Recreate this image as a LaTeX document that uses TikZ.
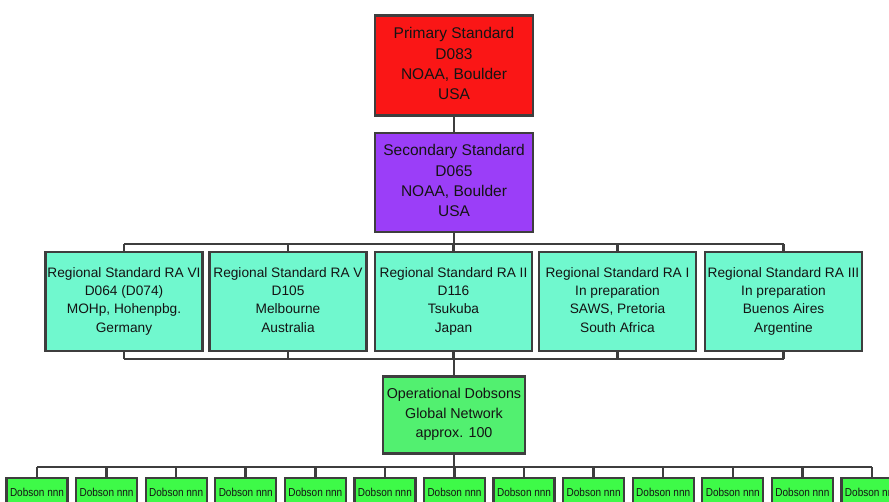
\documentclass[tikz,border=0pt]{standalone}
\usepackage{fontspec}
\setmainfont{Liberation Sans}
\definecolor{cred}{RGB}{250,22,22}
\definecolor{cpurple}{RGB}{155,62,248}
\definecolor{cturq}{RGB}{112,248,206}
\definecolor{copgreen}{RGB}{82,240,112}
\definecolor{cdob}{RGB}{62,250,72}
\definecolor{cline}{RGB}{62,62,62}
\definecolor{ctext}{RGB}{20,20,20}
\newcommand\firststrut[1]{\rule{0pt}{\dimexpr0.966em+#1\relax}}
\newcommand\laststrut{\rule[-0.25em]{0pt}{0.25em}}
\tikzset{
  box/.style={draw=cline, line width=2.6pt, inner sep=0pt, align=center, text=ctext,
    execute at begin node=\firststrut{0pt}, execute at end node=\laststrut},
  shiftbox/.style={execute at begin node=\firststrut{#1}},
  topbox/.style={box, minimum width=158pt, minimum height=100pt, font=\fontsize{15.5}{20.3}\selectfont},
  regbox/.style={box, shiftbox=7pt, fill=cturq, minimum width=157pt, minimum height=99pt, font=\fontsize{13.7}{18.3}\selectfont},
  opbox/.style={box, shiftbox=5pt, fill=copgreen, minimum width=142pt, minimum height=77pt, font=\fontsize{14.3}{19.5}\selectfont},
  dobbox/.style={box, fill=cdob, minimum width=61pt, minimum height=28pt, line width=2.2pt, font=\fontsize{11.5}{12}\selectfont},
  conn/.style={draw=cline, line width=2.5pt}
}
\begin{document}
\begin{tikzpicture}[x=1pt,y=-1pt]
\useasboundingbox (0,0) rectangle (889,501);
\clip (0,0) rectangle (889,501);
\fill[white] (0,0) rectangle (889,501);

\node[topbox, fill=cred] (prim) at (454,65.5) {Primary Standard\\D083\\NOAA, Boulder\\USA};
\node[topbox, fill=cpurple, minimum height=99pt] (sec) at (454,182.5) {Secondary Standard\\D065\\NOAA, Boulder\\USA};

\node[regbox] (r1) at (124,301.5) {Regional Standard RA VI\\D064 (D074)\\MOHp, Hohenpbg.\\Germany};
\node[regbox] (r2) at (288,301.5) {Regional Standard RA V\\D105\\Melbourne\\Australia};
\node[regbox] (r3) at (453.5,301.5) {Regional Standard RA II\\D116\\Tsukuba\\Japan};
\node[regbox] (r4) at (617.5,301.5) {Regional Standard RA I\\In preparation\\SAWS, Pretoria\\South Africa};
\node[regbox] (r5) at (783.5,301.5) {Regional Standard RA III\\In preparation\\Buenos Aires\\Argentine};

\node[opbox] (op) at (454,415) {Operational Dobsons\\Global Network\\approx. 100};

\foreach \i in {0,...,12} {
  \node[dobbox] (d\i) at ({37+69.58*\i},492) {\scalebox{0.87}[1]{Dobson nnn}};
}

\coordinate (busA) at (0,244);
\coordinate (busB) at (0,359);
\coordinate (busC) at (0,467);

% primary to secondary
\draw[conn] (prim.south) -- (sec.north);
% top bus
\draw[conn] (sec.south) -- (sec.south |- busA);
\draw[conn] (r1.north |- busA) -- (r5.north |- busA);
\foreach \r in {r1,r2,r3,r4,r5} {
  \draw[conn] (\r.north |- busA) -- (\r.north);
  \draw[conn] (\r.south) -- (\r.south |- busB);
}
\draw[conn] (r1.south |- busB) -- (r5.south |- busB);
\draw[conn] (op.north |- busB) -- (op.north);
% bottom bus
\draw[conn] (op.south) -- (op.south |- busC);
\draw[conn] (d0.north |- busC) -- (d12.north |- busC);
\foreach \i in {0,...,12} {
  \draw[conn] (d\i.north |- busC) -- (d\i.north);
}
\end{tikzpicture}
\end{document}
